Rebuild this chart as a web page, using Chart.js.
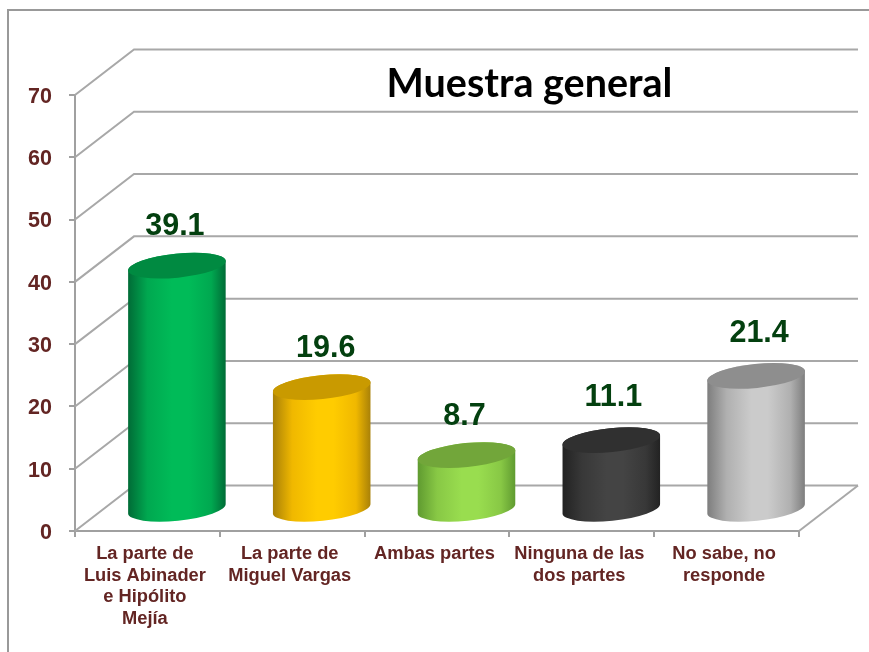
<!DOCTYPE html>
<html>
<head>
<meta charset="utf-8">
<style>html,body{margin:0;padding:0;background:#fff}canvas{display:block;filter:blur(0.5px)}</style>
<script src="https://cdn.jsdelivr.net/npm/chart.js@4"></script>
</head>
<body>
<canvas id="c" width="869" height="652"></canvas>
<script>
const titleText = "Muestra general";
const categories = [
  ["La parte de","Luis Abinader","e Hipólito","Mejía"],
  ["La parte de","Miguel Vargas"],
  ["Ambas partes"],
  ["Ninguna de las","dos partes"],
  ["No sabe, no","responde"]
];
const values = [39.1, 19.6, 8.7, 11.1, 21.4];
const yTicks = [0,10,20,30,40,50,60,70];
const barColors = ["#00bb58","#ffcc00","#99dd4f","#444444","#cbcbcb"];
const midColors = ["#00a850","#f0b800","#88c845","#383838","#b0b0b0"];
const edgeColors = ["#006b36","#a88008","#5f9a30","#222222","#7d7d7d"];
const capColors = ["#008a41","#c99a00","#72a63a","#303030","#8e8e8e"];
const labelNudgeX = [-2,4,-2,2,3];
const labelNudgeY = [-1,0,0,-4,-4];

const DEPTH_X = 59, DEPTH_Y = -45.5, RY = 12, ROT = -0.1;
const GRID = "#a8a8a8", AXIS = "#a0a0a0", TEXT_RED = "#632523", TEXT_GREEN = "#03400f";

const wall3d = {
  id: "wall3d",
  beforeDatasetsDraw(chart) {
    const {ctx, scales:{x, y}} = chart, l = x.left, r = x.right;
    ctx.save();
    ctx.strokeStyle = "#999999"; ctx.lineWidth = 2;
    ctx.beginPath(); ctx.moveTo(8, 652); ctx.lineTo(8, 10); ctx.lineTo(869, 10); ctx.stroke();
    ctx.strokeStyle = GRID; ctx.lineWidth = 2;
    yTicks.forEach(v => {
      const p = y.getPixelForValue(v);
      ctx.beginPath();
      ctx.moveTo(l, p); ctx.lineTo(l + DEPTH_X, p + DEPTH_Y); ctx.lineTo(r + DEPTH_X, p + DEPTH_Y);
      ctx.stroke();
    });
    const p0 = y.getPixelForValue(0);
    ctx.beginPath(); ctx.moveTo(r, p0); ctx.lineTo(r + DEPTH_X, p0 + DEPTH_Y); ctx.stroke();
    ctx.restore();
  },
  beforeDatasetDraw(chart, args) {
    const {ctx, scales:{y}} = chart;
    const bars = chart.getDatasetMeta(args.index).data;
    const ds = chart.data.datasets[args.index];
    const base = y.getPixelForValue(0) + DEPTH_Y/2 + 0.5;
    bars.forEach((b, i) => {
      const rx = b.width/2, cx = b.x + DEPTH_X/2, top = b.y + DEPTH_Y/2 + 1;
      const g = ctx.createLinearGradient(cx-rx, 0, cx+rx, 0);
      g.addColorStop(0, edgeColors[i]);
      g.addColorStop(0.2, midColors[i]);
      g.addColorStop(0.45, ds.backgroundColor[i]);
      g.addColorStop(0.62, ds.backgroundColor[i]);
      g.addColorStop(0.85, midColors[i]);
      g.addColorStop(1, edgeColors[i]);
      ctx.save();
      ctx.fillStyle = g;
      ctx.beginPath();
      ctx.ellipse(cx, base, rx, RY, ROT, 0, Math.PI);
      ctx.ellipse(cx, top, rx, RY, ROT, Math.PI, 2*Math.PI);
      ctx.closePath(); ctx.fill();
      ctx.fillStyle = capColors[i];
      ctx.beginPath(); ctx.ellipse(cx, top, rx, RY, ROT, 0, 2*Math.PI); ctx.fill();
      ctx.restore();
    });
    return false;
  },
  afterDatasetsDraw(chart) {
    const {ctx} = chart;
    const bars = chart.getDatasetMeta(0).data;
    ctx.save();
    ctx.textAlign = "center"; ctx.textBaseline = "alphabetic";
    ctx.fillStyle = TEXT_GREEN;
    ctx.font = "bold 30.5px 'Liberation Sans'";
    bars.forEach((b, i) => {
      ctx.fillText(values[i].toFixed(1), b.x + DEPTH_X/2 + labelNudgeX[i], b.y + DEPTH_Y/2 - 29 + labelNudgeY[i]);
    });
    ctx.fillStyle = "#000";
    ctx.font = "bold 39.5px Lato";
    ctx.fillText(titleText, 529.5, 97);
    ctx.restore();
  }
};

new Chart(document.getElementById("c"), {
  type: "bar",
  data: { labels: categories, datasets: [{ data: values, backgroundColor: barColors, barPercentage: 0.677, categoryPercentage: 1 }] },
  options: {
    responsive: false, animation: false,
    layout: { padding: { left: 0, right: 70, top: 95, bottom: 0 } },
    plugins: { legend: { display: false }, title: { display: false }, tooltip: { enabled: false } },
    scales: {
      x: {
        afterFit(s) { s.height = 121; },
        grid: { drawOnChartArea: false, color: AXIS, lineWidth: 2, tickLength: 6 },
        border: { color: AXIS, width: 2 },
        ticks: { color: TEXT_RED, autoSkip: false, maxRotation: 0, minRotation: 0, padding: 6, labelOffset: -2.5,
                 font: { family: "'Liberation Sans'", weight: "bold", size: 18.3, lineHeight: "21.7px" } }
      },
      y: {
        min: 0, max: 70,
        afterFit(s) { s.width = 75; },
        afterBuildTicks(s) { s.ticks = yTicks.map(v => ({ value: v })); },
        grid: { drawOnChartArea: false, color: AXIS, lineWidth: 2, tickLength: 6 },
        border: { color: AXIS, width: 2 },
        ticks: { color: TEXT_RED, padding: 17, callback: v => ["", String(v)],
                 font: { family: "'Liberation Sans'", weight: "bold", size: 21.5, lineHeight: "4px" } }
      }
    }
  },
  plugins: [wall3d]
});
</script>
</body>
</html>
